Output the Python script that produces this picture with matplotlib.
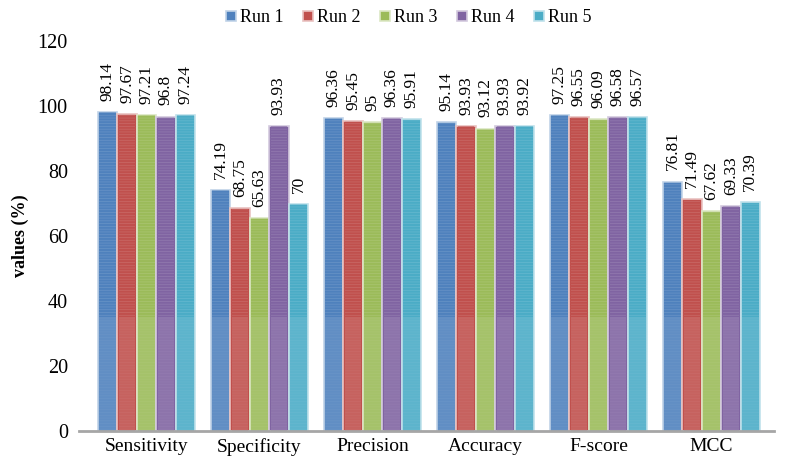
import numpy as np
import matplotlib
matplotlib.use("Agg")
import matplotlib.pyplot as plt
from matplotlib.colors import to_rgb

categories = ["Sensitivity", "Specificity", "Precision", "Accuracy", "F-score", "MCC"]
runs = ["Run 1", "Run 2", "Run 3", "Run 4", "Run 5"]
run1 = [98.14, 74.19, 96.36, 95.14, 97.25, 76.81]
run2 = [97.67, 68.75, 95.45, 93.93, 96.55, 71.49]
run3 = [97.21, 65.63, 95, 93.12, 96.09, 67.62]
run4 = [96.8, 93.93, 96.36, 93.93, 96.58, 69.33]
run5 = [97.24, 70, 95.91, 93.92, 96.57, 70.39]
series = [run1, run2, run3, run4, run5]
colors = ["#4F81BD", "#C0504D", "#9BBB59", "#8064A2", "#4BACC6"]
yticks = [0, 20, 40, 60, 80, 100, 120]

plt.rcParams["font.family"] = ["Liberation Serif", "DejaVu Serif"]
plt.rcParams["hatch.linewidth"] = 0.5

fig = plt.figure(figsize=(7.9, 4.63), dpi=100)
ax = fig.add_axes([0.114, 0.069, 0.858, 0.842])

x = np.arange(len(categories))
slot = 0.172
offsets = (np.arange(len(runs)) - 2) * slot


def lighten(c, f):
    r, g, b = to_rgb(c)
    return (r + (1 - r) * f, g + (1 - g) * f, b + (1 - b) * f)


for i, (name, vals, col) in enumerate(zip(runs, series, colors)):
    vals = np.asarray(vals, dtype=float)
    ax.bar(x + offsets[i], vals, width=slot, color=col,
           edgecolor=lighten(col, 0.65), linewidth=1.2, label=name, zorder=2)
    # slightly lighter lower band of the bar fill
    ax.bar(x + offsets[i], np.minimum(vals, 35), width=slot - 0.025,
           color=lighten(col, 0.1), linewidth=0, zorder=3)
    # fine horizontal striping texture
    ax.bar(x + offsets[i], vals, width=slot - 0.025, color="none",
           hatch="------", edgecolor=lighten(col, 0.15), linewidth=0, zorder=4)
    for xi, v in zip(x + offsets[i], vals):
        ax.annotate(f"{v:g}", (xi, v), xytext=(0, 8), textcoords="offset points",
                    rotation=90, ha="center", va="bottom", fontsize=12.5,
                    color="black")

ax.set_xlim(-0.5, len(categories) - 0.5)
ax.set_ylim(0, 120)
ax.set_yticks(yticks)
ax.set_yticklabels([str(t) for t in yticks], fontsize=14.5)
ax.set_xticks(x)
ax.set_xticklabels(categories, fontsize=14)
ax.tick_params(axis="x", length=0, pad=5)
ax.tick_params(axis="y", length=0, pad=16)
for s in ["top", "right", "left"]:
    ax.spines[s].set_visible(False)
ax.spines["bottom"].set_color("#a6a6a6")
ax.spines["bottom"].set_linewidth(2)
ax.spines["bottom"].set_bounds(-0.6, len(categories) - 0.45)
ax.spines["bottom"].set_zorder(5)
ax.set_ylabel("values (%)", fontsize=13, fontweight="bold", labelpad=6)

ax.legend(loc="upper center", bbox_to_anchor=(0.47, 1.1), ncol=5, frameon=False,
          fontsize=13, handlelength=0.55, handleheight=0.55, handletextpad=0.2,
          columnspacing=1.1, borderaxespad=0)

fig.savefig("out.png", dpi=100)
